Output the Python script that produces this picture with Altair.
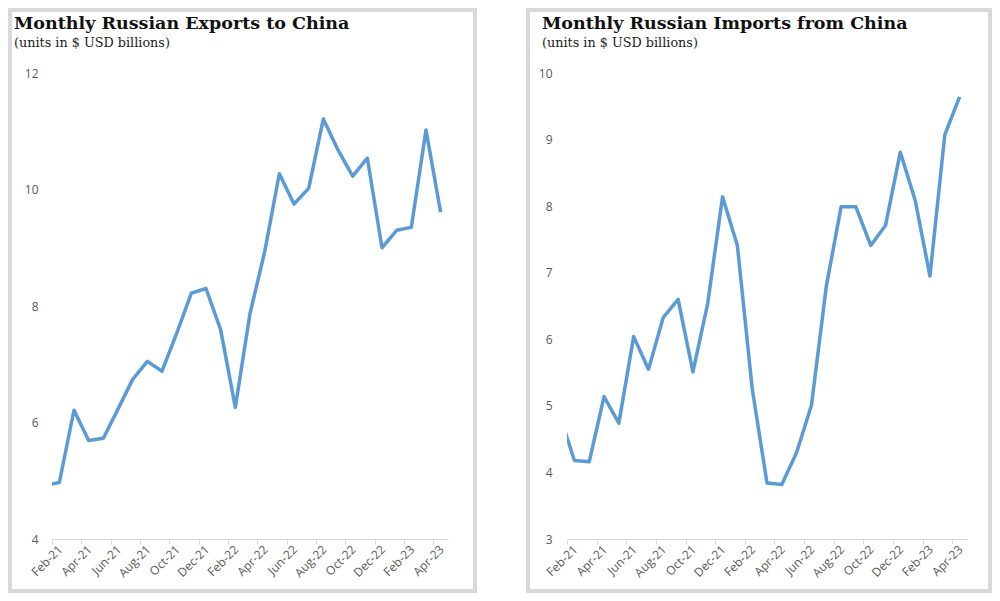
import json
import altair as alt
import pandas as pd

# Months (Jan-21 lies just left of the visible axis; the line enters from the edge)
months = ["Jan-21", "Feb-21", "Mar-21", "Apr-21", "May-21", "Jun-21", "Jul-21",
          "Aug-21", "Sep-21", "Oct-21", "Nov-21", "Dec-21", "Jan-22", "Feb-22",
          "Mar-22", "Apr-22", "May-22", "Jun-22", "Jul-22", "Aug-22", "Sep-22",
          "Oct-22", "Nov-22", "Dec-22", "Jan-23", "Feb-23", "Mar-23", "Apr-23"]

exports = [4.92, 4.97, 6.21, 5.69, 5.73, 6.23, 6.74, 7.05, 6.88, 7.53, 8.22, 8.30,
           7.59, 6.26, 7.87, 8.93, 10.27, 9.75, 10.02, 11.21, 10.68, 10.23, 10.54,
           9.00, 9.30, 9.35, 11.02, 9.61]

imports = [4.87, 4.18, 4.16, 5.14, 4.74, 6.04, 5.55, 6.33, 6.60, 5.51, 6.54, 8.14,
           7.41, 5.26, 3.84, 3.82, 4.30, 5.01, 6.79, 7.99, 7.99, 7.41, 7.71, 8.81,
           8.09, 6.95, 9.07, 9.64]

export_yticks = [4, 6, 8, 10, 12]
import_yticks = [3, 4, 5, 6, 7, 8, 9, 10]

titles = ["Monthly Russian Exports to China", "Monthly Russian Imports from China"]
subtitle = "(units in $ USD billions)"

GREY = "#d9d9d9"
LINE = "#5b9bd5"
LABEL = "#595959"
AXFONT = "Open Sans"

tick_vals = [i - 0.5 for i in range(1, 28, 2)]
label_expr = json.dumps(months) + "[round(datum.value + 0.5)]"


def panel(values, title, ydomain, yticks, width, ylabpad, title_dx, frame_x):
    df = pd.DataFrame({"idx": list(range(len(months))), "month": months, "value": values})
    x = alt.X("idx:Q",
              scale=alt.Scale(domain=[0.5, 27.5], nice=False, zero=False),
              axis=alt.Axis(values=tick_vals, labelExpr=label_expr, labelAngle=-45,
                            labelAlign="right", labelBaseline="middle", labelOffset=8,
                            labelPadding=3, tickSize=5, tickColor=GREY, domainColor=GREY,
                            grid=False, title=None, labelFlush=False, labelOverlap=False,
                            labelFont=AXFONT, labelFontSize=12, labelColor=LABEL))
    y = alt.Y("value:Q",
              scale=alt.Scale(domain=ydomain, nice=False, zero=False),
              axis=alt.Axis(values=yticks, domain=False, ticks=False, grid=False,
                            labelPadding=ylabpad, title=None, labelFont=AXFONT,
                            labelFontSize=12, labelColor=LABEL))
    line = alt.Chart(df).mark_line(color=LINE, strokeWidth=3.5, clip=True,
                                   strokeJoin="round").encode(x=x, y=y)
    frame = alt.Chart(pd.DataFrame({"f": [0]})).mark_rect(
        filled=False, stroke=GREY, strokeWidth=4, clip=False).encode(
        x=alt.value(frame_x[0]), x2=alt.value(frame_x[1]),
        y=alt.value(-63), y2=alt.value(518))
    t1 = alt.Chart(pd.DataFrame({"t": [title]})).mark_text(
        align="left", baseline="alphabetic", font="DejaVu Serif", fontWeight="bold",
        fontSize=17.5, color="#111111").encode(
        text="t:N", x=alt.value(title_dx), y=alt.value(-44))
    t2 = alt.Chart(pd.DataFrame({"t": [subtitle]})).mark_text(
        align="left", baseline="alphabetic", font="DejaVu Serif", fontSize=12.8,
        color="#222222").encode(
        text="t:N", x=alt.value(title_dx), y=alt.value(-26))
    return alt.layer(frame, line, t1, t2).properties(width=width, height=466)


left = panel(exports, titles[0], [4, 12], export_yticks, 396, 14, -38, (-42, 423))
right = panel(imports, titles[1], [3, 10], import_yticks, 400, 15, -25, (-39, 423))

chart = alt.hconcat(left, right, spacing=49).properties(
    padding=0, background="white").configure_view(stroke=None)

chart.save("out.html", embed_options={"renderer": "svg", "actions": False})
